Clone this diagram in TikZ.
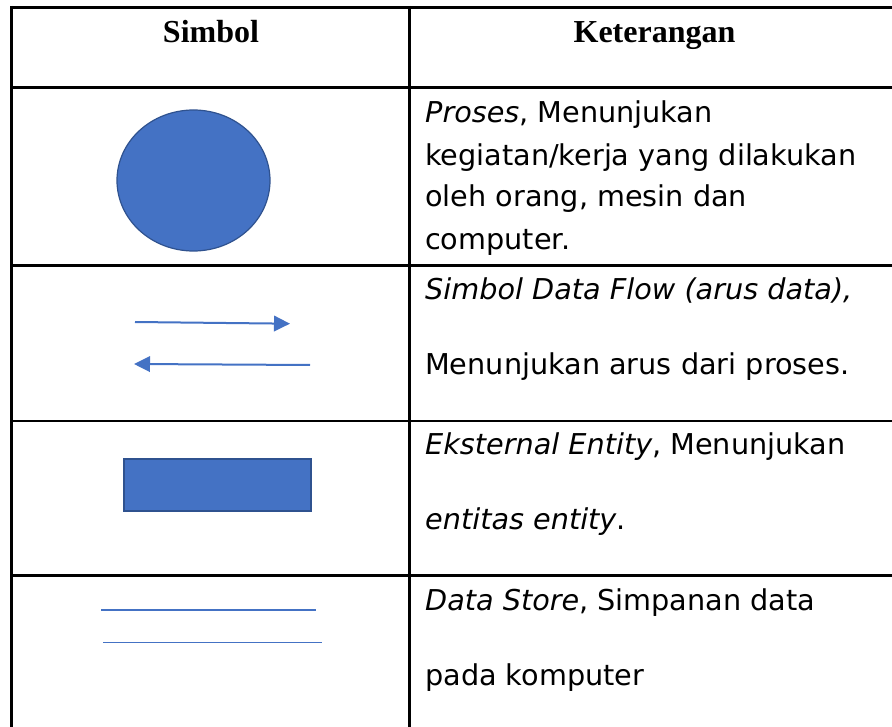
\documentclass[tikz,border=0pt]{standalone}
\usepackage{fontspec}
\usetikzlibrary{arrows.meta}
\newfontfamily\headfont{Liberation Serif}
\newfontfamily\bodyfont{DejaVu Sans}
\definecolor{symfill}{HTML}{4472C4}
\definecolor{symedge}{HTML}{2F528F}
\begin{document}
\begin{tikzpicture}[x=1pt,y=-1pt,
  rule/.style={line width=2.7pt,black},
  headtxt/.style={anchor=base,inner sep=0pt,font=\headfont\bfseries\fontsize{32}{38}\selectfont},
  bodytxt/.style={anchor=base west,inner sep=0pt,font=\bodyfont\fontsize{28.7}{34}\selectfont},
  flow/.style={line width=2pt,symfill,-{Triangle[length=16pt,width=15.5pt]}},
  storeline/.style={line width=1.3pt,symfill}]
\useasboundingbox (0,0) rectangle (892,727);

% table rules
\draw[rule] (11.7,7.3) -- (892,7.3);
\draw[rule] (11.7,87.7) -- (892,87.7);
\draw[rule] (11.7,265.7) -- (892,265.7);
\draw[rule] (11.7,421) -- (892,421);
\draw[rule] (11.7,575.3) -- (892,575.3);
\draw[rule] (11.7,6) -- (11.7,727);
\draw[rule] (409.5,6) -- (409.5,727);

% header
\node[headtxt] (hSym) at (211,43) {Simbol};
\node[headtxt] (hKet) at (654.5,43) {Keterangan};

% process symbol
\draw[symedge,line width=1.2pt,fill=symfill] (193.5,180.5) ellipse [x radius=76.5, y radius=70.5];

% data flow symbol
\coordinate (fA1) at (135,322);
\coordinate (fA2) at (290,323.7);
\coordinate (fB1) at (310,365);
\coordinate (fB2) at (134,364);
\draw[flow] (fA1) -- (fA2);
\draw[flow] (fB1) -- (fB2);

% external entity symbol
\draw[symedge,line width=2pt,fill=symfill] (124.3,458.7) rectangle (311,510.7);

% data store symbol
\coordinate (sA1) at (101,610);
\coordinate (sA2) at (315.7,610);
\coordinate (sB1) at (103,642.7);
\coordinate (sB2) at (321.7,642.7);
\draw[storeline] (sA1) -- (sA2);
\draw[storeline] (sB1) -- (sB2);

% descriptions
\node[bodytxt] (p1) at (425,122.7) {\itshape Proses\upshape, Menunjukan};
\node[bodytxt] (p2) at (425,165.7) {kegiatan/kerja yang dilakukan};
\node[bodytxt] (p3) at (425,206.7) {oleh orang, mesin dan};
\node[bodytxt] (p4) at (425,250) {computer.};

\node[bodytxt] (f1) at (425,300) {\itshape Simbol Data Flow (arus data),};
\node[bodytxt] (f2) at (425,375) {Menunjukan arus dari proses.};

\node[bodytxt] (e1) at (425,454) {\itshape Eksternal Entity\upshape, Menunjukan};
\node[bodytxt] (e2) at (425,529) {\itshape entitas entity\upshape.};

\node[bodytxt] (d1) at (425,610) {\itshape Data Store\upshape, Simpanan data};
\node[bodytxt] (d2) at (425,685) {pada komputer};
\end{tikzpicture}
\end{document}
